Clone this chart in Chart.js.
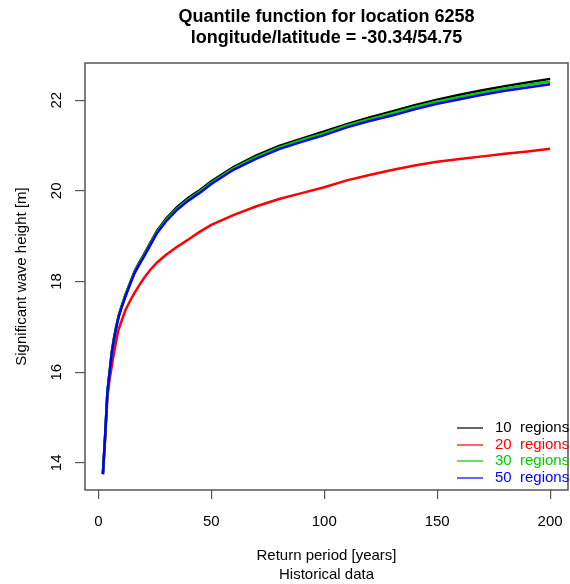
<!DOCTYPE html>
<html>
<head>
<meta charset="utf-8">
<title>Quantile function for location 6258</title>
<script src="https://cdn.jsdelivr.net/npm/chart.js@4.4.1/dist/chart.umd.min.js"></script>
<style>
  body { margin: 0; background: white; }
  canvas { display: block; }
</style>
</head>
<body>
<canvas id="quantileChart" width="570" height="584"></canvas>
<script>
// return periods [years]
const returnPeriods = [2, 3, 4, 5, 6, 7, 8, 9, 10, 12, 14, 16, 18, 20, 23, 26, 30, 35, 40, 45, 50,
  60, 70, 80, 90, 100, 110, 120, 130, 140, 150, 160, 170, 180, 190, 200];

// significant wave height [m] for each number of regions
const regions10 = [13.75, 14.6, 15.57, 16.02, 16.47, 16.78, 17.03, 17.25, 17.41, 17.71, 17.97, 18.22, 18.41, 18.58, 18.85, 19.12, 19.39, 19.65, 19.85, 20.02, 20.21,
  20.53, 20.78, 20.99, 21.15, 21.31, 21.47, 21.62, 21.75, 21.89, 22.01, 22.12, 22.22, 22.31, 22.39, 22.47];
const regions20 = [13.75, 14.55, 15.45, 15.85, 16.15, 16.45, 16.72, 16.95, 17.09, 17.37, 17.57, 17.75, 17.91, 18.06, 18.26, 18.42, 18.59, 18.77, 18.93, 19.1, 19.25,
  19.47, 19.66, 19.82, 19.95, 20.08, 20.23, 20.35, 20.46, 20.56, 20.64, 20.7, 20.76, 20.82, 20.87, 20.93];
const regions30 = [13.75, 14.6, 15.56, 16.01, 16.46, 16.77, 17.02, 17.24, 17.4, 17.69, 17.95, 18.2, 18.39, 18.56, 18.83, 19.1, 19.36, 19.62, 19.82, 19.99, 20.18,
  20.5, 20.75, 20.96, 21.12, 21.27, 21.44, 21.58, 21.71, 21.85, 21.97, 22.07, 22.17, 22.26, 22.34, 22.41];
const regions50 = [13.75, 14.6, 15.55, 16.0, 16.45, 16.75, 17.0, 17.22, 17.38, 17.67, 17.93, 18.18, 18.36, 18.53, 18.8, 19.07, 19.33, 19.59, 19.79, 19.96, 20.15,
  20.47, 20.71, 20.92, 21.08, 21.23, 21.4, 21.54, 21.66, 21.8, 21.92, 22.02, 22.12, 22.21, 22.28, 22.35];

const seriesLabels = ["10", "20", "30", "50"];
const seriesColors = ["#000000", "#FF0000", "#00CD00", "#0000FF"];
const xTicks = [0, 50, 100, 150, 200];
const yTicks = [14, 16, 18, 20, 22];
const mainTitle = ["Quantile function for location 6258", "longitude/latitude = -30.34/54.75"];
const xTitle = ["Return period [years]", "Historical data"];
const yTitle = "Significant wave height [m]";

const FONT = "'Liberation Sans', Arial, sans-serif";

function toPoints(values) {
  return returnPeriods.map((t, i) => ({ x: t, y: values[i] }));
}

const allSeries = [regions10, regions20, regions30, regions50];
const datasets = allSeries.map((vals, i) => ({
  label: seriesLabels[i] + "  regions",
  data: toPoints(vals),
  borderColor: seriesColors[i],
  borderWidth: 2.5,
  pointRadius: 0,
  tension: 0,
  fill: false,
  order: 3 - i // blue drawn last, on top
}));

// box, titles, y labels and the legend, the way R draws them
const rDecorations = {
  id: "rDecorations",
  afterDraw(chart) {
    const ctx = chart.ctx;
    const area = chart.chartArea;
    const yScale = chart.scales.y;
    const midX = (area.left + area.right) / 2;
    ctx.save();

    ctx.strokeStyle = "#555555";
    ctx.lineWidth = 1.5;
    ctx.strokeRect(area.left, area.top, area.right - area.left, area.bottom - area.top);

    ctx.fillStyle = "#000000";
    ctx.textAlign = "center";
    ctx.textBaseline = "middle";

    ctx.font = "bold 18px " + FONT;
    ctx.fillText(mainTitle[0], midX, 17);
    ctx.fillText(mainTitle[1], midX, 38);

    ctx.font = "15px " + FONT;
    ctx.fillText(xTitle[0], midX, 556);
    ctx.fillText(xTitle[1], midX, 575);

    ctx.save();
    ctx.translate(22, (area.top + area.bottom) / 2);
    ctx.rotate(-Math.PI / 2);
    ctx.fillText(yTitle, 0, 0);
    ctx.restore();

    yTicks.forEach(v => {
      const py = yScale.getPixelForValue(v);
      ctx.save();
      ctx.translate(57, py);
      ctx.rotate(-Math.PI / 2);
      ctx.fillText(String(v), 0, 0);
      ctx.restore();
    });

    // legend, bottom right, running off the edge like the original
    ctx.textAlign = "left";
    const rows = [428, 445, 461, 478];
    chart.data.datasets.forEach((ds, i) => {
      ctx.strokeStyle = ds.borderColor;
      ctx.lineWidth = 1.2;
      ctx.beginPath();
      ctx.moveTo(457, rows[i]);
      ctx.lineTo(483, rows[i]);
      ctx.stroke();
      ctx.fillStyle = ds.borderColor;
      ctx.fillText(ds.label, 495, rows[i]);
    });

    ctx.restore();
  }
};

new Chart(document.getElementById("quantileChart"), {
  type: "line",
  data: { datasets: datasets },
  options: {
    responsive: false,
    animation: false,
    devicePixelRatio: 1,
    layout: { padding: { top: 63, right: 2, left: 0, bottom: 0 } },
    plugins: {
      legend: { display: false },
      title: { display: false },
      tooltip: { enabled: false }
    },
    scales: {
      x: {
        type: "linear",
        min: -5.92,
        max: 207.92,
        afterBuildTicks: s => { s.ticks = xTicks.map(v => ({ value: v })); },
        afterFit: s => {
          s.height = 584 - 63 - 427;
          s.paddingLeft = 0;
          s.paddingRight = 0; // let "200" hang out, keep the box at the right edge
        },
        border: { display: false },
        grid: { drawOnChartArea: false, drawTicks: true, tickLength: 9, color: "#555555", lineWidth: 1.2 },
        ticks: { color: "#000000", font: { family: FONT, size: 15 }, padding: 14, maxRotation: 0 }
      },
      y: {
        type: "linear",
        min: 13.40,
        max: 22.82,
        afterBuildTicks: s => { s.ticks = yTicks.map(v => ({ value: v })); },
        afterFit: s => { s.width = 85; },
        border: { display: false },
        grid: { drawOnChartArea: false, drawTicks: true, tickLength: 10, color: "#555555", lineWidth: 1.2 },
        ticks: { display: false }
      }
    }
  },
  plugins: [rDecorations]
});
</script>
</body>
</html>
